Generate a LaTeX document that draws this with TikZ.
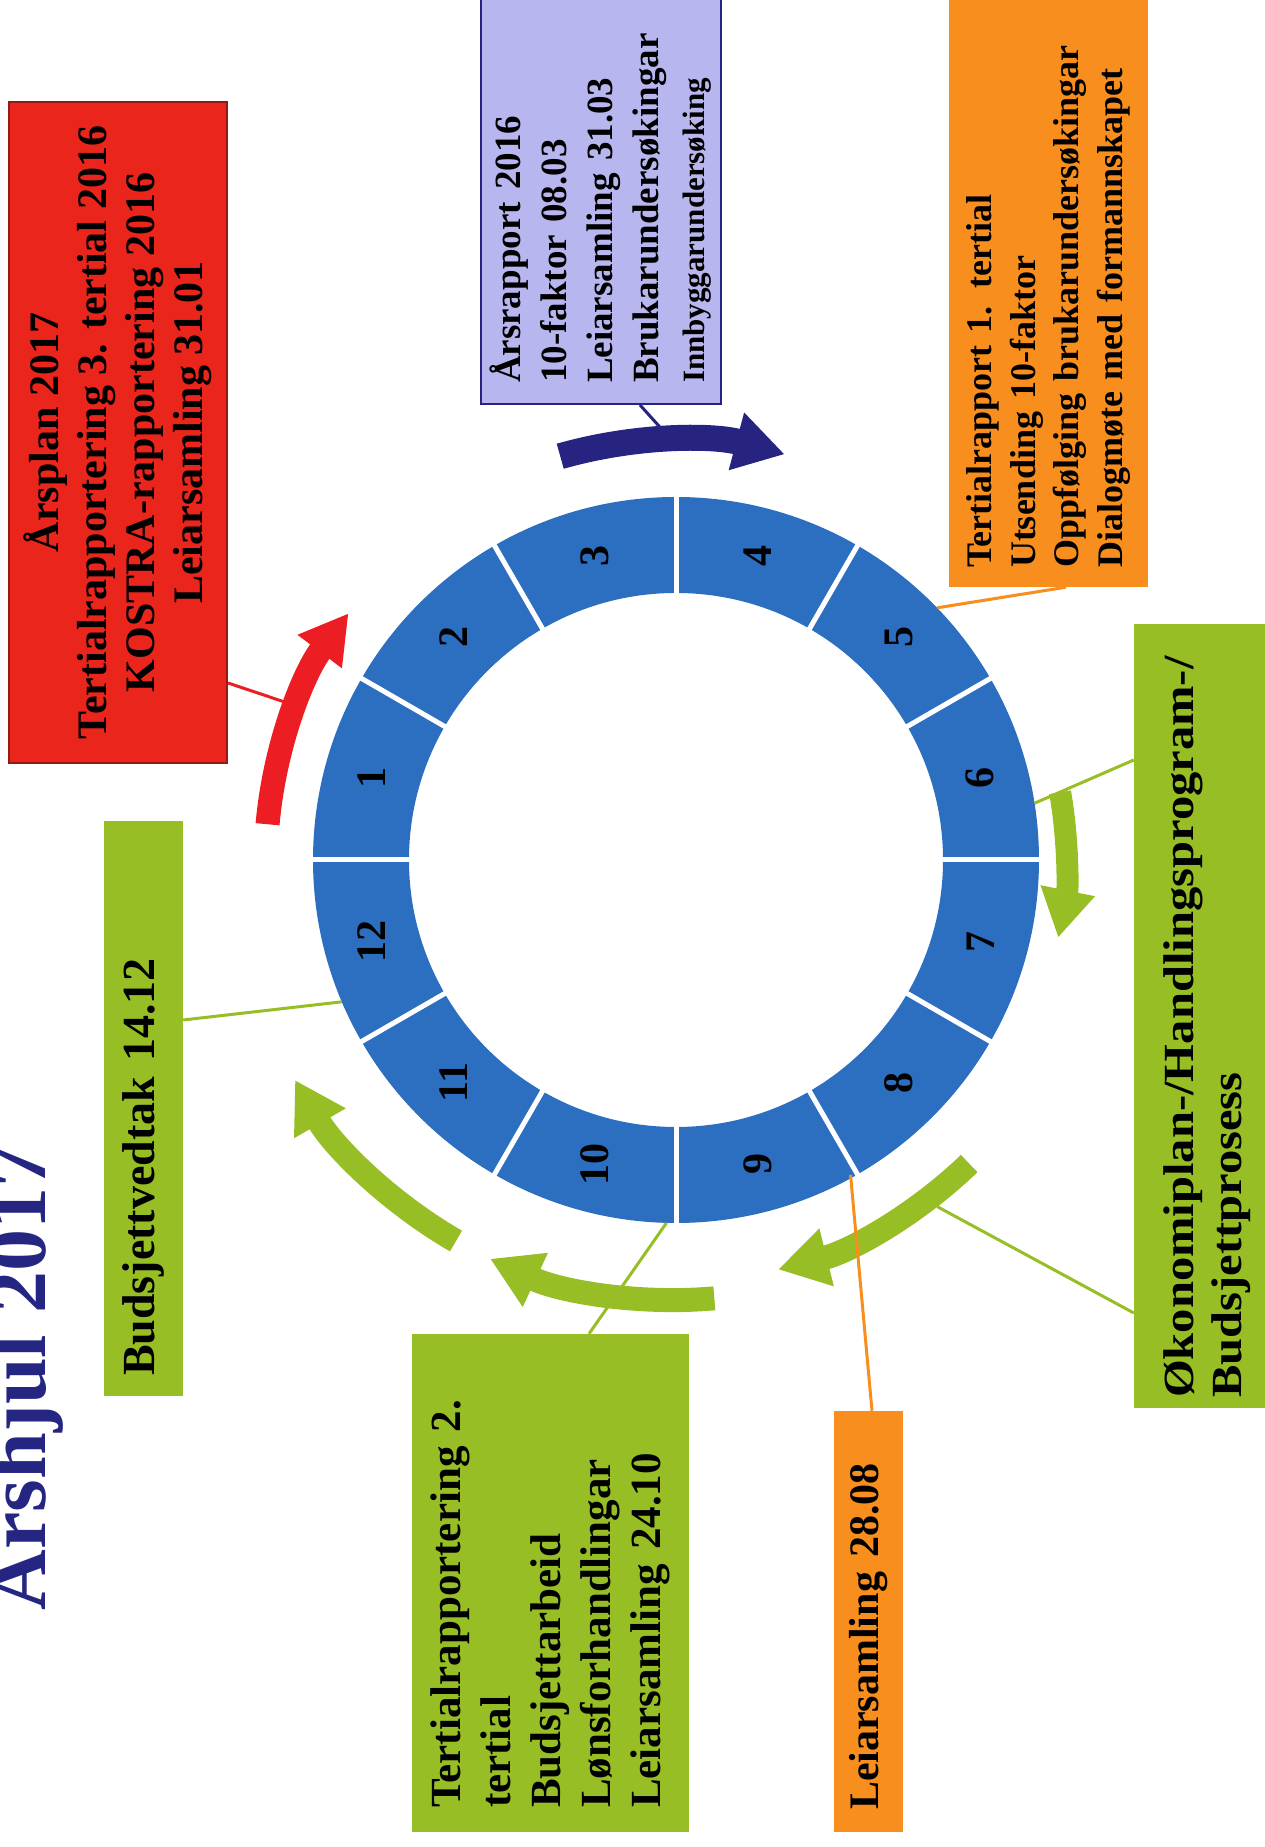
\documentclass[tikz,border=0pt]{standalone}
\usepackage{fontspec}
\setmainfont{Liberation Serif}
\newfontfamily\widefont{Liberation Serif}[FakeStretch=1.13]
\usetikzlibrary{arrows.meta,calc}
\definecolor{ringblue}{RGB}{44,110,192}
\definecolor{boxred}{RGB}{234,38,28}
\definecolor{redborder}{RGB}{150,25,20}
\definecolor{arrred}{RGB}{236,30,36}
\definecolor{lav}{RGB}{184,182,238}
\definecolor{navy}{RGB}{38,36,128}
\definecolor{orng}{RGB}{247,142,30}
\definecolor{grn}{RGB}{152,190,38}
\definecolor{titleblue}{RGB}{36,38,130}
\begin{document}
\begin{tikzpicture}[x=1pt,y=1pt,
  box/.style={rotate=90, inner ysep=0pt, text=black},
  conn/.style={line width=3pt},
  bigarrow/.style={line width=24pt, -{Triangle[length=50pt,width=56pt]}},
  num/.style={rotate=90, text=black, font=\bfseries\fontsize{42}{42}\selectfont}
]
\useasboundingbox (0,0) rectangle (1265,1847);
\coordinate (C) at (676,987);
% ring
\fill[ringblue, even odd rule] (C) circle[radius=363] (C) circle[radius=267];
\foreach \a in {0,30,...,330}
  \draw[white, line width=5pt] ($(C)+(\a:264)$) -- ($(C)+(\a:366)$);
\foreach \m in {1,...,12}
  \node[num] (n\m) at ($(C)+({195-30*\m}:315)$) {\m};

% title
\node[rotate=90, anchor=base, text=titleblue, font=\bfseries\fontsize{84}{84}\selectfont] (title) at (45,469) {Årshjul 2017};

% curved arrows
\draw[bigarrow, arrred, line width=24pt, -{Triangle[length=48pt,width=52pt]}] ($(C)+(175:410)$) arc[start angle=175, end angle=143, radius=410];
\draw[bigarrow, navy, line width=26pt] ($(C)+(106:420)$) arc[start angle=106, end angle=75, radius=420];
\draw[bigarrow, grn, line width=22pt, -{Triangle[length=48pt,width=52pt]}] ($(C)+(10:390)$) arc[start angle=10, end angle=-11.5, radius=390];
\draw[bigarrow, grn] ($(C)+(-46:422)$) arc[start angle=-46, end angle=-76, radius=422];
\draw[bigarrow, grn] ($(C)+(-85:440)$) arc[start angle=-85, end angle=-115, radius=440];
\draw[bigarrow, grn] ($(C)+(-120:440)$) arc[start angle=-120, end angle=-150, radius=440];

% boxes
\node[box, fill=boxred, draw=redborder, line width=2pt, minimum width=661pt, minimum height=218pt, align=center,
  font=\bfseries\fontsize{42}{48}\selectfont] (red) at (118,1414.5)
  {Årsplan 2017\\Tertialrapportering 3. tertial 2016\\KOSTRA-rapportering 2016\\Leiarsamling 31.01};

\node[box, fill=lav, draw=navy, line width=2pt, minimum width=414pt, minimum height=240pt, inner xsep=21pt, text width=372pt, align=left,
  font=\bfseries\fontsize{37}{46}\selectfont] (lavbox) at (601,1650)
  {Årsrapport 2016\\10-faktor 08.03\\Leiarsamling 31.03\\Brukarundersøkingar\\{\fontsize{31}{40}\selectfont Innbyggarundersøking}};

\node[box, fill=orng, minimum width=597pt, minimum height=199pt, inner xsep=19pt, text width=559pt, align=left,
  font=\bfseries\fontsize{36}{43.5}\selectfont] (orbox) at (1048.5,1558.5)
  {Tertialrapport 1. tertial\\Utsending 10-faktor\\Oppfølging brukarundersøkingar\\Dialogmøte med formannskapet};

\node[box, fill=grn, minimum width=784pt, minimum height=146pt, inner xsep=10pt, text width=764pt, align=left,
  font=\widefont\bfseries\fontsize{43}{48}\selectfont] (okbox) at (1207,831)
  {Økonomiplan-/Handlingsprogram-/\\Budsjettprosess};

\node[box, fill=grn, minimum width=575pt, minimum height=79pt, inner xsep=20pt, text width=535pt, align=left,
  font=\bfseries\fontsize{46}{50}\selectfont] (budbox) at (143.5,738.5)
  {Budsjettvedtak 14.12};

\node[box, fill=grn, minimum width=498pt, minimum height=277pt, inner xsep=24pt, text width=450pt, align=left,
  font=\bfseries\fontsize{43}{50}\selectfont] (terbox) at (550.5,264)
  {Tertialrapportering 2.\\tertial\\Budsjettarbeid\\Lønsforhandlingar\\Leiarsamling 24.10};

\node[box, fill=orng, minimum width=421pt, minimum height=69pt, inner xsep=22pt, text width=377pt, align=left,
  font=\bfseries\fontsize{42}{46}\selectfont] (leibox) at (868.5,225.5)
  {Leiarsamling 28.08};

% connector end points
\coordinate (pRed) at ($(C)+(158:420)$);
\coordinate (pNavy) at ($(C)+(92:432)$);
\coordinate (pOr) at ($(C)+(44:363)$);
\coordinate (pOk1) at ($(C)+(9:363)$);
\coordinate (pOk2) at ($(C)+(-53:434)$);
\coordinate (pBud) at ($(C)+(-157:363)$);
\coordinate (pTer) at ($(C)+(-91.5:363)$);
\coordinate (pLei) at ($(C)+(-61:360)$);

% connectors
\draw[conn, arrred] ([yshift=-250.5pt]red.south) -- (pRed);
\draw[conn, navy] ([xshift=39pt]lavbox.west) -- (pNavy);
\draw[conn, orng] ([xshift=17.5pt]orbox.west) -- (pOr);
\draw[conn, grn] ([yshift=256pt]okbox.north) -- (pOk1);
\draw[conn, grn] ([yshift=-297pt]okbox.north) -- (pOk2);
\draw[conn, grn] ([yshift=88.5pt]budbox.south) -- (pBud);
\draw[conn, grn] ([xshift=38.5pt]terbox.east) -- (pTer);
\draw[conn, orng] ([xshift=3.5pt]leibox.east) -- (pLei);
\end{tikzpicture}
\end{document}
